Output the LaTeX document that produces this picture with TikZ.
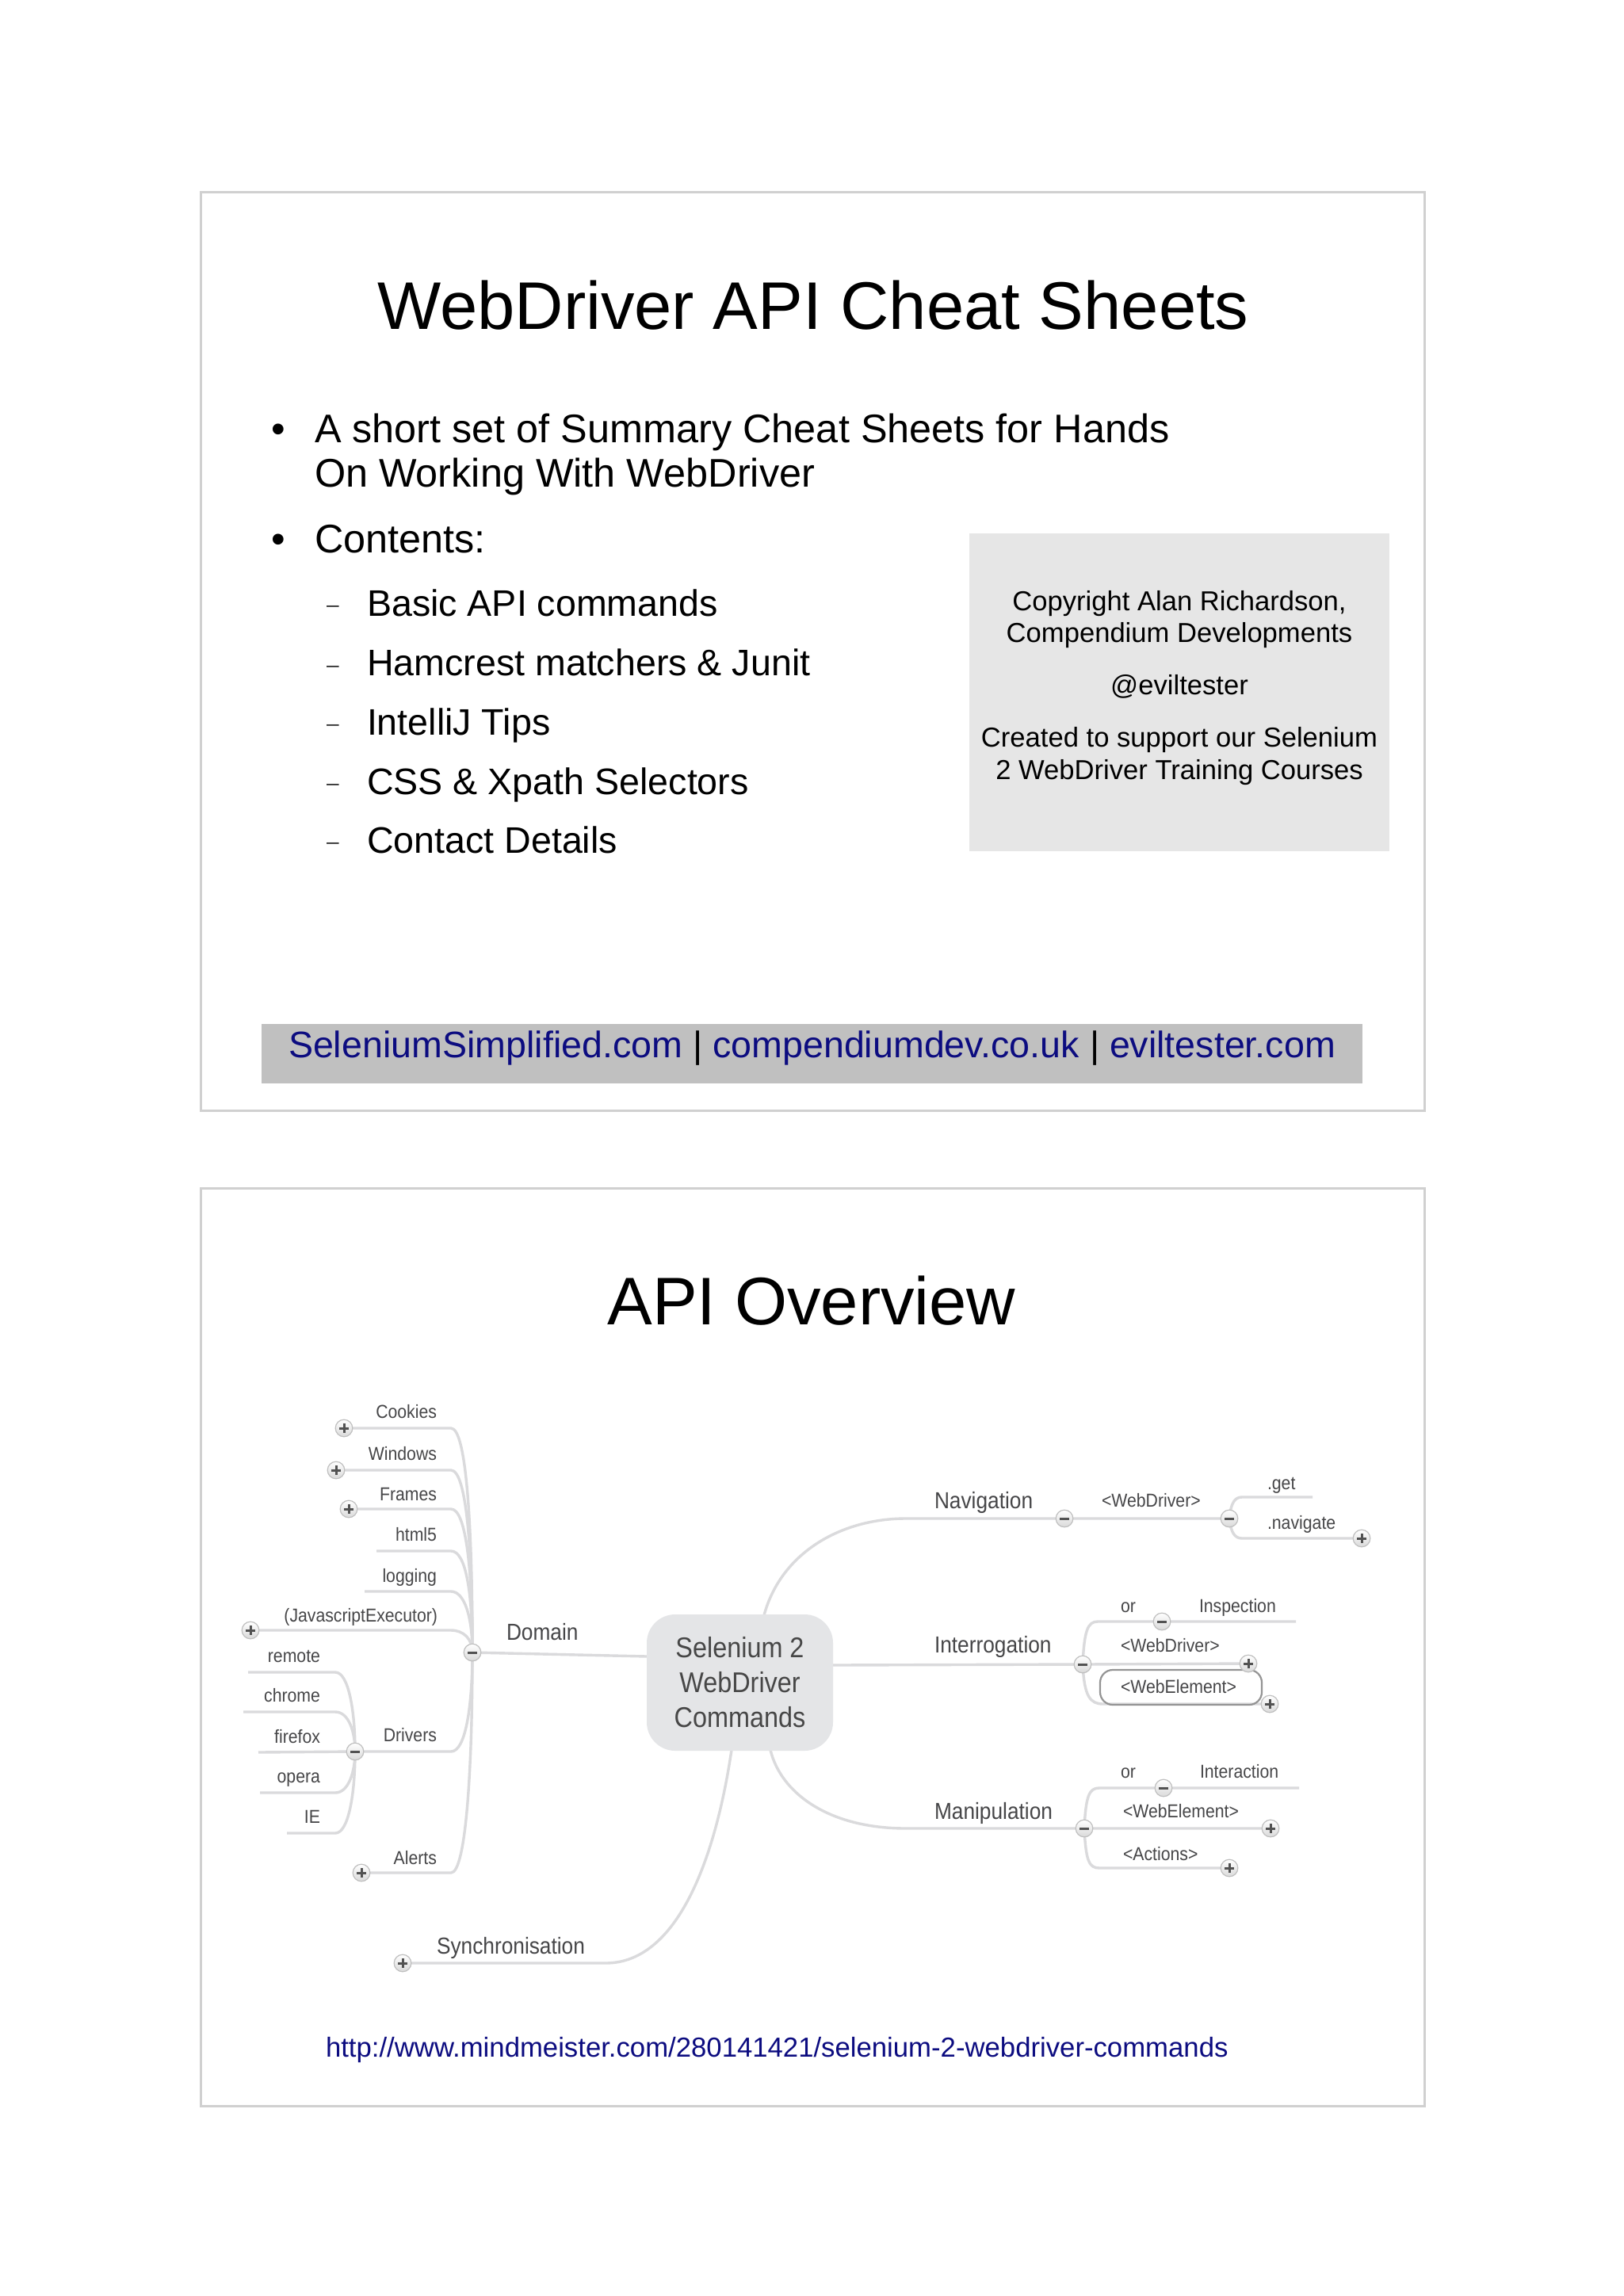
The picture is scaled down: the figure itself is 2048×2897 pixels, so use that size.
\documentclass[tikz,border=0pt]{standalone}
\usepackage{fontspec}
\setmainfont{Liberation Sans}
\newfontfamily\mmfont[FakeStretch=0.9]{Liberation Sans}
\definecolor{navyurl}{RGB}{12,12,128}
\definecolor{framegray}{RGB}{208,208,208}
\definecolor{mmline}{RGB}{218,218,220}
\definecolor{mmtext}{RGB}{70,70,72}
\definecolor{boxgray}{RGB}{230,230,230}
\definecolor{bargray}{RGB}{192,192,192}
\definecolor{nodegray}{RGB}{228,229,231}
\newcommand\fsz[1]{\fontsize{#1pt}{#1pt}\selectfont}
\tikzset{
  txt/.style={inner sep=0pt,outer sep=0pt},
  slideframe/.style={draw=framegray,line width=0.75pt},
  mm/.style={draw=mmline,line width=0.85pt},
  mmlab/.style={txt,text=mmtext,font=\mmfont\fsz{7.3}},
  mmsmall/.style={txt,text=mmtext,font=\mmfont\fsz{5.9}},
  sym/.style={draw=black!68,line width=0.75pt},
  btn/.style={circle,inner sep=0pt,minimum size=5.4pt,draw=black!25,line width=0.3pt,top color=white,bottom color=black!15},
  plusbtn/.style={btn,path picture={
     \draw[sym] ([xshift=-1.4pt]path picture bounding box.center) -- ([xshift=1.4pt]path picture bounding box.center);
     \draw[sym] ([yshift=-1.4pt]path picture bounding box.center) -- ([yshift=1.4pt]path picture bounding box.center);}},
  minusbtn/.style={btn,path picture={
     \draw[sym] ([xshift=-1.4pt]path picture bounding box.center) -- ([xshift=1.4pt]path picture bounding box.center);}}
}
\begin{document}
\begin{tikzpicture}[x=0.25pt,y=-0.25pt]
\fill[white] (0,0) rectangle (2048,2897);
\useasboundingbox (0,0) rectangle (2048,2897);

% ---------------- Slide 1 ----------------
\draw[slideframe] (253,243) rectangle (1797,1401);
\node[txt,anchor=base,font=\fsz{21.25}] (title1) at (1026,416) {WebDriver API Cheat Sheets};

\node[txt,anchor=base,font=\fsz{12.6}] (dot1) at (351,559) {•};
\node[txt,anchor=base west,font=\fsz{12.6}] (b1a) at (397,559) {A short set of Summary Cheat Sheets for Hands};
\node[txt,anchor=base west,font=\fsz{12.6}] (b1b) at (397,615) {On Working With WebDriver};
\node[txt,anchor=base,font=\fsz{12.6}] (dot2) at (351,698) {•};
\node[txt,anchor=base west,font=\fsz{12.6}] (b2) at (397,698) {Contents:};

\foreach \yy/\tx/\nm in {778/Basic API commands/s1, 853/Hamcrest matchers \& Junit/s2, 927/IntelliJ Tips/s3, 1002/CSS \& Xpath Selectors/s4, 1076/Contact Details/s5}{
  \node[txt,anchor=base,font=\fsz{7},text=black!80] (\nm dash) at (420,\yy-5) {–};
  \node[txt,anchor=base west,font=\fsz{11.65}] (\nm) at (463,\yy) {\tx};
}

\node[txt,fill=boxgray,minimum width=132.5pt,minimum height=100.25pt] (copybox) at (1488,873.5) {};
\node[txt,anchor=base,font=\fsz{8.65}] (c1) at (1488,771) {Copyright Alan Richardson,};
\node[txt,anchor=base,font=\fsz{8.65}] (c2) at (1488,811) {Compendium Developments};
\node[txt,anchor=base,font=\fsz{8.65}] (c3) at (1488,876) {@eviltester};
\node[txt,anchor=base,font=\fsz{8.65}] (c4) at (1488,942) {Created to support our Selenium};
\node[txt,anchor=base,font=\fsz{8.65}] (c5) at (1488,983) {2 WebDriver Training Courses};

\node[txt,fill=bargray,minimum width=347.25pt,minimum height=18.75pt] (linkbar) at (1024.5,1329.5) {};
\node[txt,anchor=base west,font=\fsz{11.65}] (links) at (364,1334)
  {{\color{navyurl}SeleniumSimplified.com} | {\color{navyurl}compendiumdev.co.uk} | {\color{navyurl}eviltester.com}};

% ---------------- Slide 2 ----------------
\draw[slideframe] (253,1499) rectangle (1797,2657);
\node[txt,anchor=base,font=\fsz{21.25}] (title2) at (1024,1671) {API Overview};
\node[txt,anchor=base west,font=\fsz{8.68},text=navyurl] (url) at (411,2595)
  {http://www.mindmeister.com/280141421/selenium-2-webdriver-commands};

% junction coordinates
\coordinate (domM) at (596,2085);
\coordinate (rootW) at (816,2090);
\coordinate (rootE) at (1051,2101);
\coordinate (rootN) at (964,2038);
\coordinate (rootS) at (972,2208);
\coordinate (rootSW) at (923,2208);

\coordinate (ckP) at (434,1802);  \coordinate (ckE) at (569,1802);
\coordinate (wiP) at (424,1855);  \coordinate (wiE) at (569,1855);
\coordinate (frP) at (440,1904);  \coordinate (frE) at (569,1904);
\coordinate (h5S) at (475,1957);  \coordinate (h5E) at (569,1957);
\coordinate (lgS) at (460,2008);  \coordinate (lgE) at (569,2008);
\coordinate (jsP) at (316,2057);  \coordinate (jsE) at (569,2057);
\coordinate (drM) at (448,2210);  \coordinate (drE) at (569,2210);
\coordinate (alP) at (456,2363);  \coordinate (alE) at (569,2363);

\coordinate (reS) at (313,2110);  \coordinate (reE) at (423,2110);
\coordinate (chS) at (307,2160);  \coordinate (chE) at (423,2160);
\coordinate (ffS) at (326,2211);
\coordinate (opS) at (328,2262);  \coordinate (opE) at (423,2262);
\coordinate (ieS) at (362,2313);  \coordinate (ieE) at (423,2313);

\coordinate (navS) at (1143,1916); \coordinate (navM) at (1343,1916);
\coordinate (wdM) at (1551,1916);
\coordinate (getS) at (1567,1889); \coordinate (getE) at (1656,1889);
\coordinate (ngS) at (1567,1941);  \coordinate (ngP) at (1718,1941);

\coordinate (intM) at (1366,2100);
\coordinate (inspS) at (1385,2046); \coordinate (inspM) at (1466,2046); \coordinate (inspE) at (1635,2046);
\coordinate (iwdP) at (1575,2099);
\coordinate (iweS) at (1392,2150); \coordinate (iweP) at (1602,2150);

\coordinate (manS) at (1143,2307); \coordinate (manM) at (1368,2307);
\coordinate (actS) at (1387,2256); \coordinate (actM) at (1468,2256); \coordinate (actE) at (1639,2256);
\coordinate (mweP) at (1603,2307);
\coordinate (macS) at (1387,2357); \coordinate (macP) at (1551,2357);

\coordinate (synS) at (764,2477); \coordinate (synP) at (508,2477);

% connectors
\draw[mm] (domM) -- (rootW);
\draw[mm] (ckP) -- (ckE) .. controls (588,1802) and (596,1920) .. (domM);
\draw[mm] (wiP) -- (wiE) .. controls (588,1855) and (596,1950) .. (domM);
\draw[mm] (frP) -- (frE) .. controls (588,1904) and (596,1980) .. (domM);
\draw[mm] (h5S) -- (h5E) .. controls (588,1957) and (596,2010) .. (domM);
\draw[mm] (lgS) -- (lgE) .. controls (586,2008) and (596,2040) .. (domM);
\draw[mm] (jsP) -- (jsE) .. controls (585,2057) and (596,2068) .. (domM);
\draw[mm] (drM) -- (drE) .. controls (588,2210) and (596,2150) .. (domM);
\draw[mm] (alP) -- (alE) .. controls (588,2363) and (596,2230) .. (domM);

\draw[mm] (reS) -- (reE) .. controls (440,2110) and (448,2160) .. (drM);
\draw[mm] (chS) -- (chE) .. controls (440,2160) and (448,2185) .. (drM);
\draw[mm] (ffS) -- (drM);
\draw[mm] (opS) -- (opE) .. controls (440,2262) and (448,2235) .. (drM);
\draw[mm] (ieS) -- (ieE) .. controls (440,2313) and (448,2262) .. (drM);

\draw[mm] (rootN) .. controls (985,1960) and (1060,1916) .. (navS) -- (navM) -- (wdM);
\draw[mm] (wdM) .. controls (1553,1896) and (1558,1889) .. (getS) -- (getE);
\draw[mm] (wdM) .. controls (1553,1934) and (1558,1941) .. (ngS) -- (ngP);

\draw[mm] (rootE) -- (intM) -- (iwdP);
\draw[mm] (intM) .. controls (1368,2058) and (1372,2046) .. (inspS) -- (inspM) -- (inspE);
\draw[mm] (intM) .. controls (1368,2140) and (1375,2150) .. (iweS) -- (iweP);

\draw[mm] (rootS) .. controls (985,2262) and (1045,2307) .. (manS) -- (manM) -- (mweP);
\draw[mm] (manM) .. controls (1370,2266) and (1374,2256) .. (actS) -- (actM) -- (actE);
\draw[mm] (manM) .. controls (1370,2348) and (1374,2357) .. (macS) -- (macP);

\draw[mm] (rootSW) .. controls (905,2330) and (860,2477) .. (synS) -- (synP);

% central node
\node[fill=nodegray,rounded corners=9pt,minimum width=58.75pt,minimum height=43pt,
      inner sep=0pt,align=center,text=black!72,font=\mmfont\fontsize{9pt}{11pt}\selectfont]
      (root) at (933.5,2123) {Selenium 2\\WebDriver\\Commands};

% selected WebElement box
\node[draw=black!42,line width=0.55pt,rounded corners=4pt,minimum width=51pt,minimum height=11pt,inner sep=0pt] (webelbox) at (1490,2129) {};

% buttons
\node[plusbtn] (ckB) at (ckP) {};
\node[plusbtn] (wiB) at (wiP) {};
\node[plusbtn] (frB) at (frP) {};
\node[plusbtn] (jsB) at (jsP) {};
\node[minusbtn] (drB) at (drM) {};
\node[plusbtn] (alB) at (alP) {};
\node[minusbtn] (domB) at (domM) {};
\node[minusbtn] (navB) at (navM) {};
\node[minusbtn] (wdB) at (wdM) {};
\node[plusbtn] (ngB) at (ngP) {};
\node[minusbtn] (intB) at (intM) {};
\node[minusbtn] (inspB) at (inspM) {};
\node[plusbtn] (iwdB) at (iwdP) {};
\node[plusbtn] (iweB) at (iweP) {};
\node[minusbtn] (manB) at (manM) {};
\node[minusbtn] (actB) at (actM) {};
\node[plusbtn] (mweB) at (mweP) {};
\node[plusbtn] (macB) at (macP) {};
\node[plusbtn] (synB) at (synP) {};

% mind map labels
\node[mmlab,anchor=base west] (domL) at (639,2069) {Domain};
\node[mmlab,anchor=base west] (navL) at (1179,1903) {Navigation};
\node[mmlab,anchor=base west] (intL) at (1179,2085) {Interrogation};
\node[mmlab,anchor=base west] (manL) at (1179,2295) {Manipulation};
\node[mmlab,anchor=base west] (synL) at (551,2465) {Synchronisation};

\node[mmsmall,anchor=base east] (ckL) at (551,1789) {Cookies};
\node[mmsmall,anchor=base east] (wiL) at (551,1842) {Windows};
\node[mmsmall,anchor=base east] (frL) at (551,1893) {Frames};
\node[mmsmall,anchor=base east] (h5L) at (551,1944) {html5};
\node[mmsmall,anchor=base east] (lgL) at (551,1996) {logging};
\node[mmsmall,anchor=base east] (jsL) at (552,2046) {(JavascriptExecutor)};
\node[mmsmall,anchor=base east] (drL) at (551,2197) {Drivers};
\node[mmsmall,anchor=base east] (alL) at (551,2352) {Alerts};

\node[mmsmall,anchor=base east] (reL) at (404,2097) {remote};
\node[mmsmall,anchor=base east] (chL) at (404,2147) {chrome};
\node[mmsmall,anchor=base east] (ffL) at (404,2199) {firefox};
\node[mmsmall,anchor=base east] (opL) at (404,2249) {opera};
\node[mmsmall,anchor=base east] (ieL) at (404,2300) {IE};

\node[mmsmall,anchor=base west] (nwdL) at (1390,1901) {<WebDriver>};
\node[mmsmall,anchor=base west] (getL) at (1599,1879) {.get};
\node[mmsmall,anchor=base west] (ngL) at (1599,1929) {.navigate};

\node[mmsmall,anchor=base west] (or1L) at (1414,2034) {or};
\node[mmsmall,anchor=base west] (inspL) at (1513,2034) {Inspection};
\node[mmsmall,anchor=base west] (iwdL) at (1414,2084) {<WebDriver>};
\node[mmsmall,anchor=base west] (iweL) at (1414,2136) {<WebElement>};

\node[mmsmall,anchor=base west] (or2L) at (1414,2243) {or};
\node[mmsmall,anchor=base west] (actL) at (1514,2243) {Interaction};
\node[mmsmall,anchor=base west] (mweL) at (1417,2293) {<WebElement>};
\node[mmsmall,anchor=base west] (macL) at (1417,2347) {<Actions>};
\end{tikzpicture}
\end{document}
